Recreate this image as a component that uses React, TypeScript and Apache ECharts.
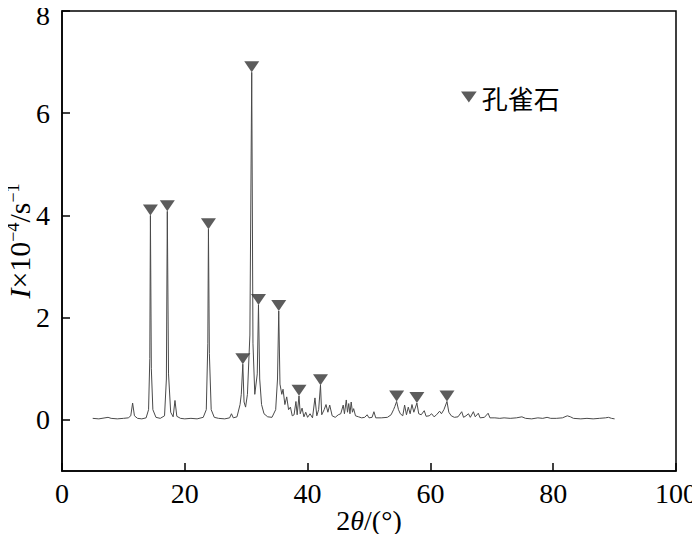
import React, { useEffect, useRef } from "react";
import * as echarts from "echarts";

const xrdPattern: [number, number][] = [
  [5.0, 0.03], [6.0, 0.02], [7.0, 0.04], [7.5, 0.05], [8.0, 0.03], [9.0, 0.02], [10.0, 0.03],
  [10.8, 0.04], [11.2, 0.08], [11.5, 0.33], [11.8, 0.08], [12.3, 0.03], [13.0, 0.02],
  [13.7, 0.04], [14.1, 0.2], [14.3, 1.2], [14.4, 4.0], [14.55, 1.0], [14.8, 0.2], [15.3, 0.05],
  [16.0, 0.03], [16.7, 0.08], [17.0, 0.8], [17.15, 4.08], [17.35, 0.9], [17.7, 0.15],
  [18.1, 0.06], [18.4, 0.38], [18.7, 0.07], [19.3, 0.03], [20.0, 0.02], [21.0, 0.03],
  [22.0, 0.02], [23.0, 0.05], [23.5, 0.2], [23.75, 1.5], [23.85, 3.73], [24.0, 1.3],
  [24.3, 0.2], [24.8, 0.05], [25.5, 0.03], [26.5, 0.02], [27.3, 0.04], [27.6, 0.12],
  [27.9, 0.04], [28.5, 0.06], [29.0, 0.3], [29.2, 0.5], [29.45, 1.09], [29.65, 0.35],
  [29.9, 0.25], [30.2, 0.5], [30.6, 1.66], [30.9, 6.8], [31.1, 1.5], [31.4, 0.5],
  [31.8, 0.9], [32.0, 2.25], [32.2, 0.8], [32.5, 0.3], [32.9, 0.12], [33.5, 0.06],
  [34.2, 0.05], [34.8, 0.2], [35.1, 0.8], [35.3, 2.13], [35.5, 0.7], [35.8, 0.5],
  [36.0, 0.6], [36.3, 0.3], [36.6, 0.45], [36.9, 0.2], [37.2, 0.25], [37.5, 0.08],
  [37.8, 0.1], [38.1, 0.36], [38.3, 0.1], [38.6, 0.47], [38.8, 0.12], [39.1, 0.23],
  [39.4, 0.06], [39.7, 0.15], [40.0, 0.05], [40.4, 0.12], [40.8, 0.04], [41.2, 0.43],
  [41.5, 0.08], [41.8, 0.2], [42.1, 0.68], [42.3, 0.1], [42.7, 0.2], [43.0, 0.3],
  [43.3, 0.15], [43.6, 0.29], [44.0, 0.08], [44.5, 0.05], [45.0, 0.1], [45.4, 0.12],
  [45.8, 0.29], [46.0, 0.12], [46.3, 0.39], [46.5, 0.15], [46.7, 0.32], [46.9, 0.12],
  [47.1, 0.35], [47.3, 0.15], [47.5, 0.22], [47.8, 0.08], [48.3, 0.06], [48.8, 0.04],
  [49.3, 0.05], [49.7, 0.1], [50.0, 0.04], [50.5, 0.05], [50.8, 0.16], [51.1, 0.04],
  [52.0, 0.04], [53.0, 0.05], [53.6, 0.1], [54.0, 0.2], [54.2, 0.26], [54.5, 0.36],
  [54.8, 0.2], [55.1, 0.12], [55.5, 0.08], [55.8, 0.29], [56.1, 0.1], [56.4, 0.25],
  [56.7, 0.12], [57.0, 0.3], [57.3, 0.15], [57.8, 0.33], [58.1, 0.12], [58.5, 0.1],
  [59.0, 0.18], [59.3, 0.07], [59.8, 0.08], [60.2, 0.12], [60.6, 0.06], [61.0, 0.1],
  [61.5, 0.17], [61.8, 0.12], [62.2, 0.2], [62.7, 0.36], [63.0, 0.15], [63.4, 0.08],
  [63.9, 0.05], [64.5, 0.06], [65.1, 0.16], [65.4, 0.05], [65.8, 0.08], [66.2, 0.12],
  [66.5, 0.05], [67.0, 0.16], [67.3, 0.06], [67.8, 0.13], [68.1, 0.04], [68.8, 0.05],
  [69.4, 0.13], [69.7, 0.04], [70.5, 0.04], [71.3, 0.03], [72.0, 0.04], [73.0, 0.03],
  [74.0, 0.04], [74.9, 0.06], [75.5, 0.03], [76.5, 0.02], [77.5, 0.04], [78.3, 0.03],
  [79.0, 0.05], [79.6, 0.03], [80.5, 0.03], [81.5, 0.04], [82.3, 0.08], [82.8, 0.06],
  [83.3, 0.03], [84.5, 0.02], [85.5, 0.03], [86.5, 0.02], [87.5, 0.03], [88.5, 0.04],
  [89.0, 0.05], [89.5, 0.03], [90.0, 0.02],
];

// Malachite peak markers (2θ, intensity at peak top)
const malachiteX = [14.4, 17.15, 23.85, 29.45, 30.9, 32.0, 35.3, 38.6, 42.1, 54.5, 57.8, 62.7];
const malachiteY = [4.0, 4.08, 3.73, 1.09, 6.8, 2.25, 2.13, 0.47, 0.68, 0.36, 0.33, 0.36];

const yTickValues = [0, 2, 4, 6, 8];
const legendName = "孔雀石";

const SERIF = "'Liberation Serif', 'DejaVu Serif', serif";
const TRI = "path://M0 0L20 0L10 14Z";

export default function App() {
  const ref = useRef<HTMLDivElement>(null);
  useEffect(() => {
    if (!ref.current) return;
    const chart = echarts.init(ref.current, undefined, { renderer: "svg" });
    const markers = malachiteX.map((x, i) => [x, malachiteY[i]]);
    const yTop = yTickValues[yTickValues.length - 1];
    chart.setOption({
      animation: false,
      backgroundColor: "#fff",
      grid: {
        left: 62,
        right: 24,
        top: 11,
        bottom: 71,
        outerBoundsMode: "none",
        containLabel: false,
        show: true,
        borderColor: "#000",
        borderWidth: 1.5,
        backgroundColor: "transparent",
      },
      legend: {
        left: 456,
        top: 79,
        itemWidth: 16,
        itemHeight: 11,
        itemGap: 6,
        data: [{ name: legendName, icon: TRI }],
        textStyle: { fontFamily: "'Noto Sans CJK SC', sans-serif", fontSize: 26, color: "#000" },
      },
      xAxis: {
        type: "value",
        min: 0,
        max: 100,
        interval: 20,
        name: "{n|2}{i|θ}{n|/(°)}",
        nameLocation: "middle",
        nameGap: 35,
        nameMoveOverlap: false,
        nameTextStyle: {
          rich: {
            n: { fontFamily: SERIF, fontSize: 28, color: "#000" },
            i: { fontFamily: SERIF, fontSize: 28, fontStyle: "italic", color: "#000" },
          },
        },
        axisLine: { onZero: false, lineStyle: { color: "#000", width: 1.5 } },
        axisTick: { inside: true, length: 8, lineStyle: { color: "#000", width: 1.5 } },
        axisLabel: { fontFamily: SERIF, fontSize: 28, color: "#000", margin: 8 },
        splitLine: { show: false },
      },
      yAxis: {
        type: "value",
        min: -1,
        max: 8,
        interval: 1,
        name: "{i|I}{n|×10}{s|−4}{n|/s}{s|−1}",
        nameLocation: "middle",
        nameGap: 28,
        nameRotate: 90,
        nameMoveOverlap: false,
        nameTextStyle: {
          rich: {
            n: { fontFamily: SERIF, fontSize: 30, lineHeight: 30, color: "#000" },
            i: { fontFamily: SERIF, fontSize: 30, lineHeight: 30, fontStyle: "italic", color: "#000" },
            s: { fontFamily: SERIF, fontSize: 18, lineHeight: 30, verticalAlign: "top", color: "#000" },
          },
        },
        axisLine: { onZero: false, lineStyle: { color: "#000", width: 1.5 } },
        axisTick: {
          inside: true,
          length: 8,
          customValues: yTickValues,
          lineStyle: { color: "#000", width: 1.5 },
        },
        axisLabel: {
          color: "#000",
          margin: 12,
          customValues: yTickValues,
          formatter: (v: number) => (v === yTop ? `{t|${v}}` : `{d|${v}}`),
          rich: {
            d: { fontFamily: SERIF, fontSize: 28, color: "#000" },
            t: { fontFamily: SERIF, fontSize: 28, color: "#000", padding: [9, 0, 0, 0] },
          },
        },
        splitLine: { show: false },
      },
      series: [
        {
          type: "line",
          name: "pattern",
          data: xrdPattern,
          showSymbol: false,
          symbol: "none",
          lineStyle: { color: "#4a4a4a", width: 1 },
          z: 2,
        },
        {
          type: "scatter",
          name: legendName,
          data: markers,
          symbol: TRI,
          symbolSize: [15, 11],
          symbolOffset: [0, -5.5],
          itemStyle: { color: "#333" },
          z: 3,
        },
      ],
    });
    return () => chart.dispose();
  }, []);
  return <div ref={ref} style={{ width: 700, height: 542, margin: -8 }} />;
}
